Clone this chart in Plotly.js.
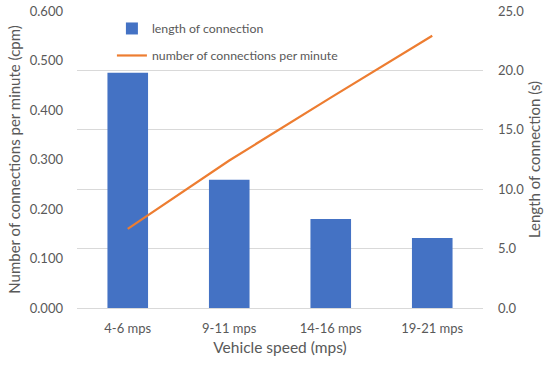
<!DOCTYPE html>
<html>
<head>
<meta charset="utf-8">
<script src="https://cdn.plot.ly/plotly-3.0.1.min.js"></script>
<style>
  html, body { margin: 0; padding: 0; background: #fff; }
  #chart { width: 545px; height: 365px; }
</style>
</head>
<body>
<div id="chart"></div>
<script>
// Vehicle speed bands
const categories = ['4-6 mps', '9-11 mps', '14-16 mps', '19-21 mps'];
// Mean length of a connection, seconds (right axis)
const lengthSec = [19.8, 10.8, 7.5, 5.9];
// Connections made per minute (left axis)
const connPerMin = [0.160, 0.298, 0.425, 0.550];

const FONT = 'Lato, "Open Sans", sans-serif';
const GREY = '#595959';

const bars = {
  type: 'bar',
  name: 'length of connection',
  x: categories,
  y: lengthSec,
  yaxis: 'y',
  legendgroup: 'a',
  marker: { color: '#4472C4' },
  hoverinfo: 'x+y'
};

const line = {
  type: 'scatter',
  mode: 'lines',
  name: 'number of connections per minute',
  x: categories,
  y: connPerMin,
  yaxis: 'y2',
  legendgroup: 'b',
  line: { color: '#ED7D31', width: 2.2 },
  hoverinfo: 'x+y'
};

const layout = {
  width: 545,
  height: 365,
  margin: { l: 77, r: 62, t: 11, b: 57 },
  paper_bgcolor: '#ffffff',
  plot_bgcolor: '#ffffff',
  font: { family: FONT, color: GREY, size: 13 },
  bargap: 0.6,
  showlegend: true,
  legend: {
    x: 0.086, y: 0.99, xanchor: 'left', yanchor: 'top',
    bgcolor: 'rgba(0,0,0,0)',
    font: { family: FONT, size: 12.3, color: GREY },
    traceorder: 'grouped',
    tracegroupgap: 8,
    itemwidth: 30
  },
  xaxis: {
    type: 'category',
    showgrid: false,
    showline: true,
    linecolor: '#d9d9d9',
    linewidth: 1,
    ticks: '',
    ticklabelstandoff: 8,
    tickfont: { family: FONT, size: 13, color: GREY },
    title: { text: 'Vehicle speed (mps)', font: { family: FONT, size: 15.5, color: GREY }, standoff: 7 },
    fixedrange: true
  },
  // length of connection, drawn on the right
  yaxis: {
    side: 'right',
    range: [0, 25],
    dtick: 5,
    tickformat: '.1f',
    showgrid: true,
    gridcolor: '#d9d9d9',
    gridwidth: 1,
    zeroline: false,
    showline: false,
    ticks: '',
    ticklabelstandoff: 14,
    tickfont: { family: FONT, size: 13, color: GREY },
    title: { text: 'Length of connection (s)', font: { family: FONT, size: 15, color: GREY }, standoff: 6 },
    fixedrange: true
  },
  // connections per minute, drawn on the left, over the bars
  yaxis2: {
    overlaying: 'y',
    side: 'left',
    range: [0, 0.6],
    dtick: 0.1,
    tickformat: '.3f',
    showgrid: false,
    zeroline: false,
    showline: false,
    ticks: '',
    ticklabelstandoff: 13,
    tickfont: { family: FONT, size: 13, color: GREY },
    title: { text: 'Number of connections per minute (cpm)', font: { family: FONT, size: 15, color: GREY }, standoff: 5 },
    fixedrange: true
  }
};

Plotly.newPlot('chart', [bars, line], layout, { staticPlot: true, displayModeBar: false });
</script>
</body>
</html>
